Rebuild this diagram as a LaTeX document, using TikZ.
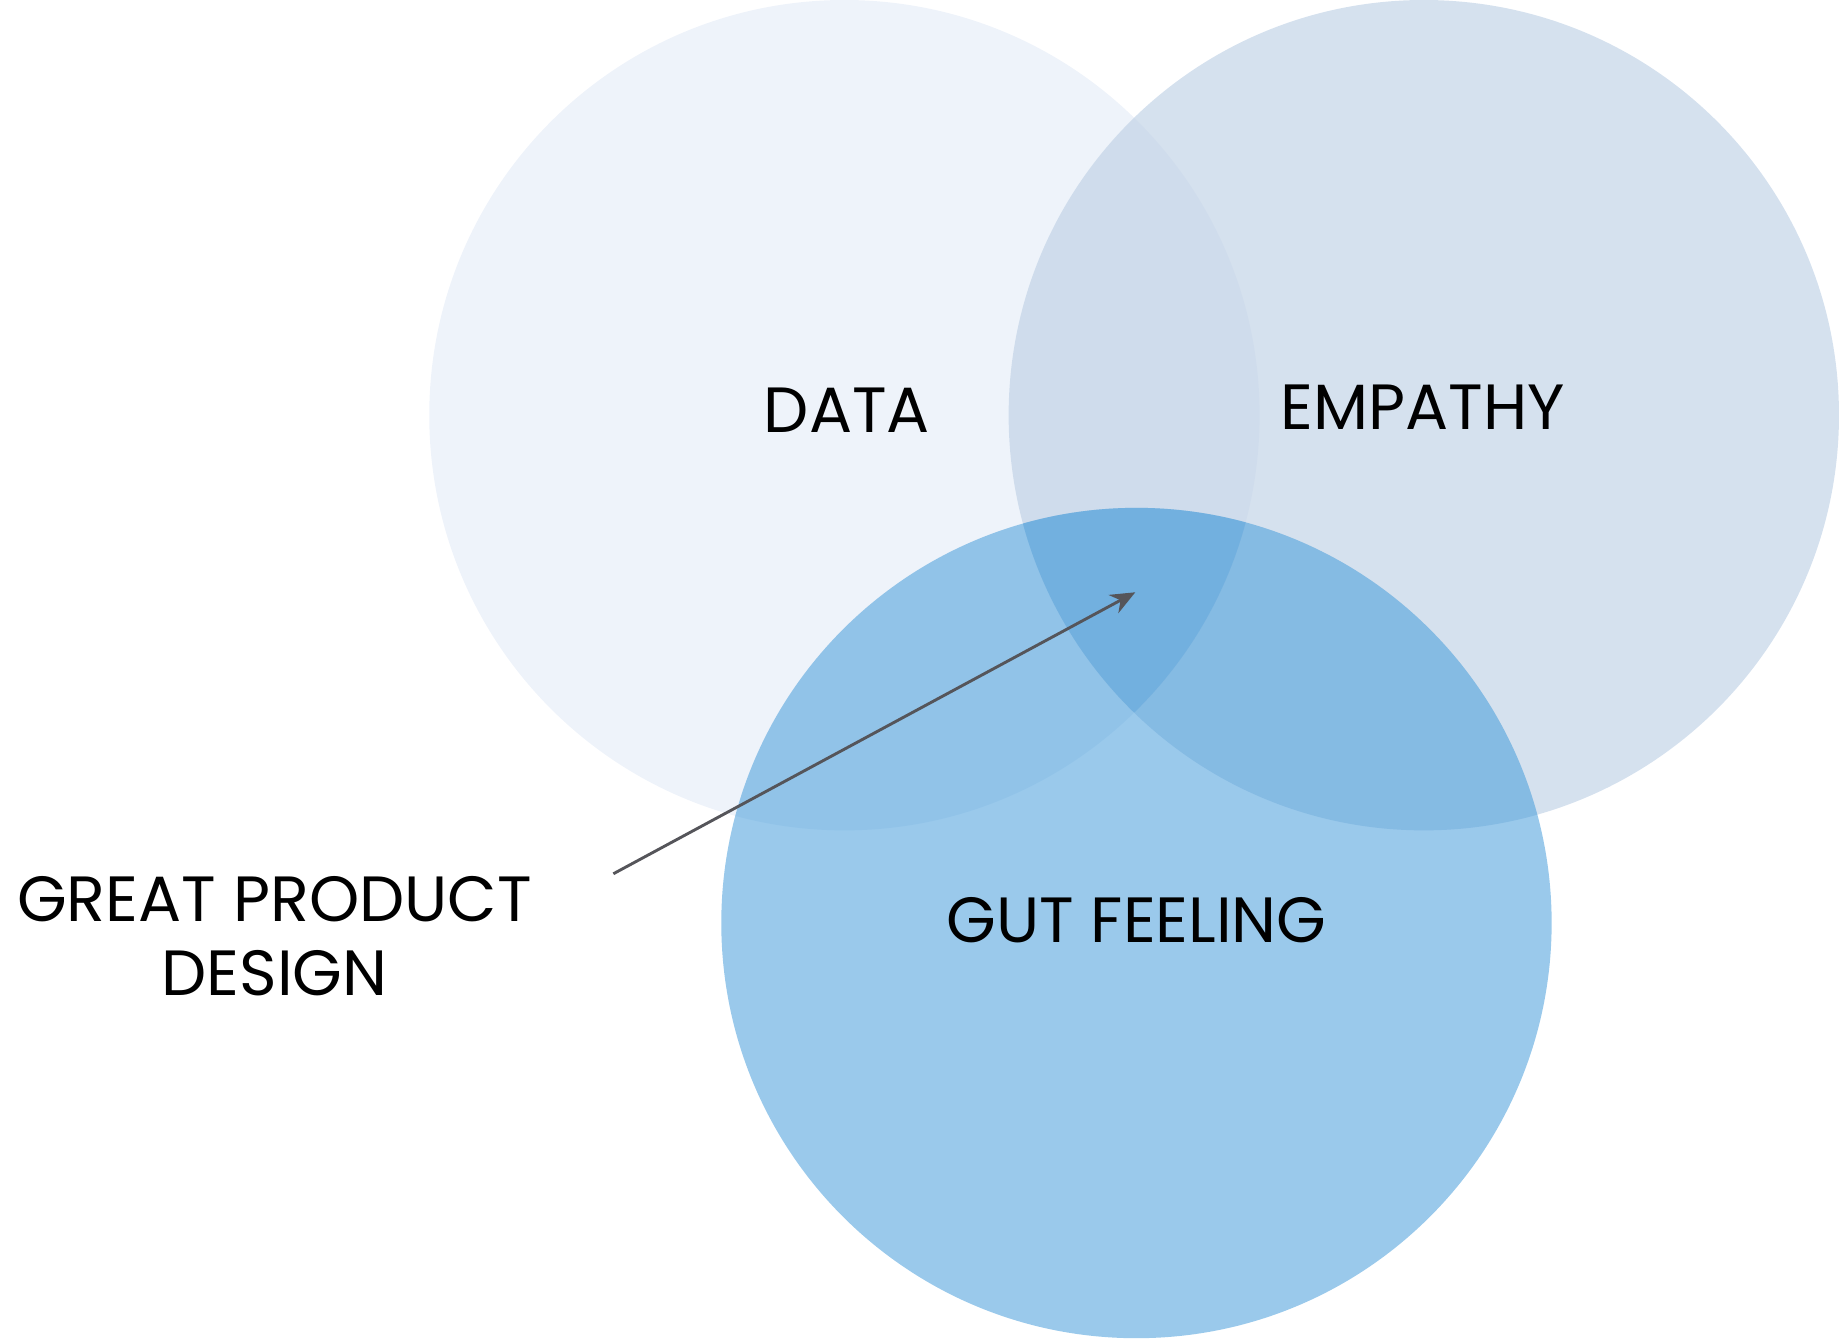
\documentclass[tikz,border=0pt]{standalone}
\usepackage{fontspec}
\setmainfont{Poppins}
\usetikzlibrary{arrows.meta}
\definecolor{dataC}{RGB}{238,243,250}
\definecolor{empC}{RGB}{191,209,229}
\definecolor{gutC}{RGB}{62,152,217}
\definecolor{triC}{RGB}{90,165,220}
\definecolor{arrC}{RGB}{85,85,90}
\begin{document}
\begin{tikzpicture}[x=0.01cm,y=-0.01cm,
  lbl/.style={font=\fontsize{15.5}{20}\selectfont, text=black, inner sep=0pt}]
\useasboundingbox (0,0) rectangle (1568,1142);
\fill[dataC] (720,354) circle (354);
\fill[empC, opacity=0.65] (1214,354) circle (354);
\fill[gutC, opacity=0.524] (969,787) circle (354);
\begin{scope}
  \clip (720,354) circle (354);
  \clip (1214,354) circle (354);
  \fill[triC, opacity=0.4] (969,787) circle (354);
\end{scope}
\node[lbl] (data) at (722,350) {DATA};
\node[lbl] (emp) at (1213,347) {EMPATHY};
\node[lbl] (gut) at (969,785) {GUT FEELING};
\node[lbl] (gpd1) at (234,767) {GREAT PRODUCT};
\node[lbl] (gpd2) at (234,830) {DESIGN};
\coordinate (a0) at (523,745);
\coordinate (a1) at (968,505);
\draw[arrC, line width=0.7pt, -{Stealth[length=6pt,width=5pt]}] (a0) -- (a1);
\end{tikzpicture}
\end{document}
